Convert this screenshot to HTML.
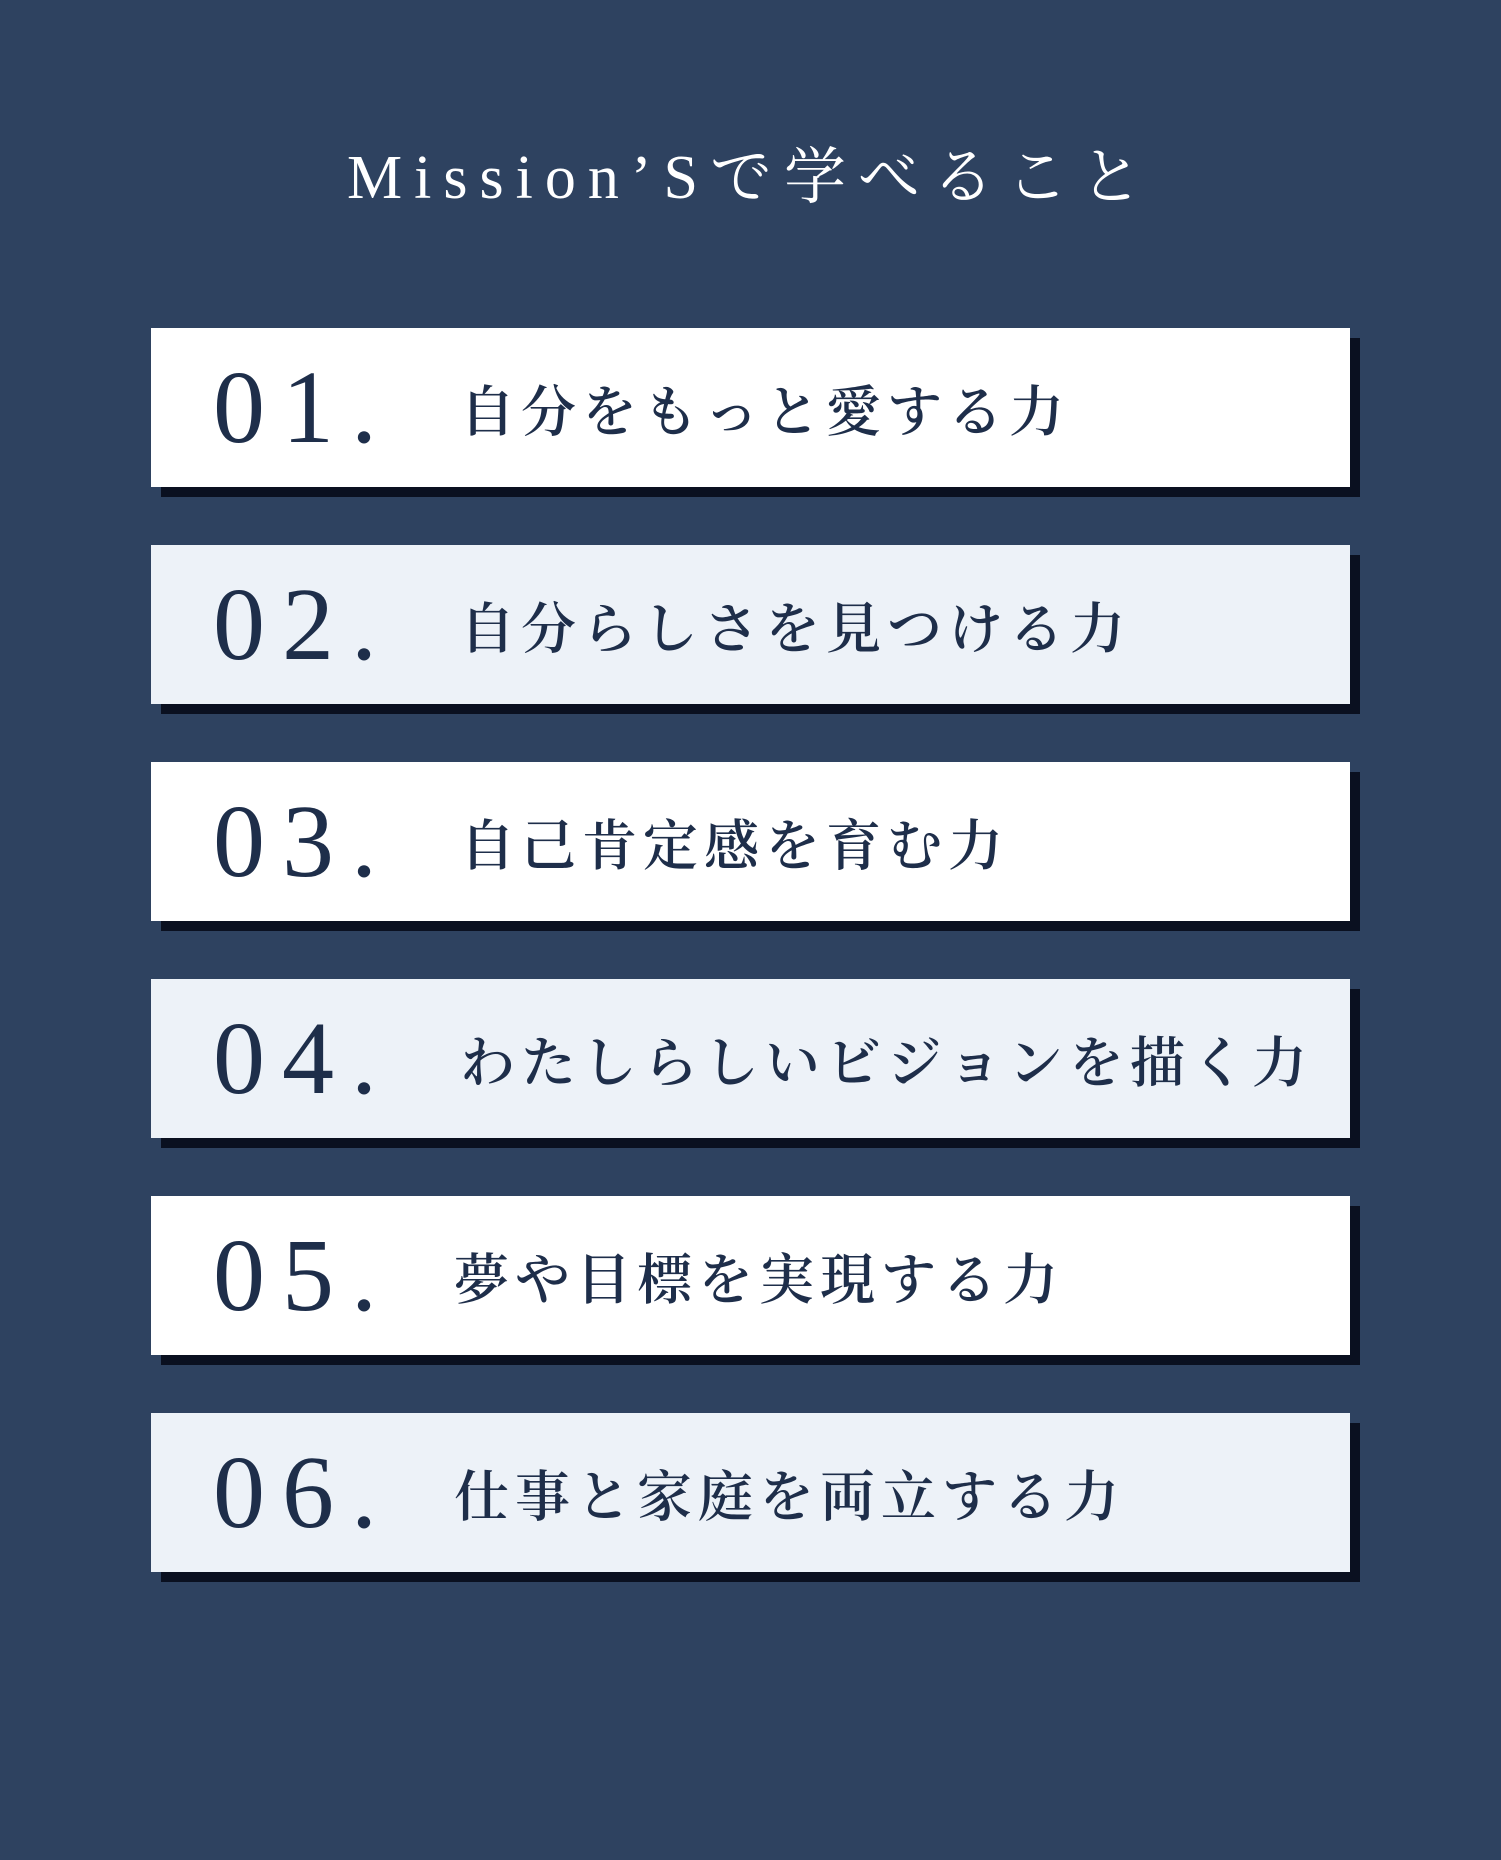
<!DOCTYPE html>
<html><head><meta charset="utf-8"><style>
html,body{margin:0;padding:0}
body{width:1501px;height:1860px;background:#2e4260;position:relative;overflow:hidden;font-family:"Liberation Serif","Noto Serif CJK SC",serif;}
.title{position:absolute;left:0;width:1501px;top:138px;text-align:center;color:#fff;font-size:62px;letter-spacing:12px;line-height:80px;}
.box{position:absolute;left:151px;width:1199px;height:159px;box-shadow:10px 10px 0 #0a1020;}
.w{background:#fff}.g{background:#edf2f8}
.num{position:absolute;left:62px;top:30px;font-size:104px;line-height:100px;color:#1e2e4a;letter-spacing:17px;}
.txt{position:absolute;left:309px;top:50px;font-size:55px;line-height:70px;color:#1e2e4a;letter-spacing:6px;white-space:nowrap;font-weight:600;}
</style></head><body>
<div class="title">Mission’Sで学べること</div>
<div class="box w" style="top:328px"><div class="num">01.</div><div class="txt">自分をもっと愛する力</div></div>
<div class="box g" style="top:545px"><div class="num">02.</div><div class="txt">自分らしさを見つける力</div></div>
<div class="box w" style="top:762px"><div class="num">03.</div><div class="txt">自己肯定感を育む力</div></div>
<div class="box g" style="top:979px"><div class="num">04.</div><div class="txt">わたしらしいビジョンを描く力</div></div>
<div class="box w" style="top:1196px"><div class="num">05.</div><div class="txt" style="left:303px">夢や目標を実現する力</div></div>
<div class="box g" style="top:1413px"><div class="num">06.</div><div class="txt" style="left:303px">仕事と家庭を両立する力</div></div>
</body></html>
